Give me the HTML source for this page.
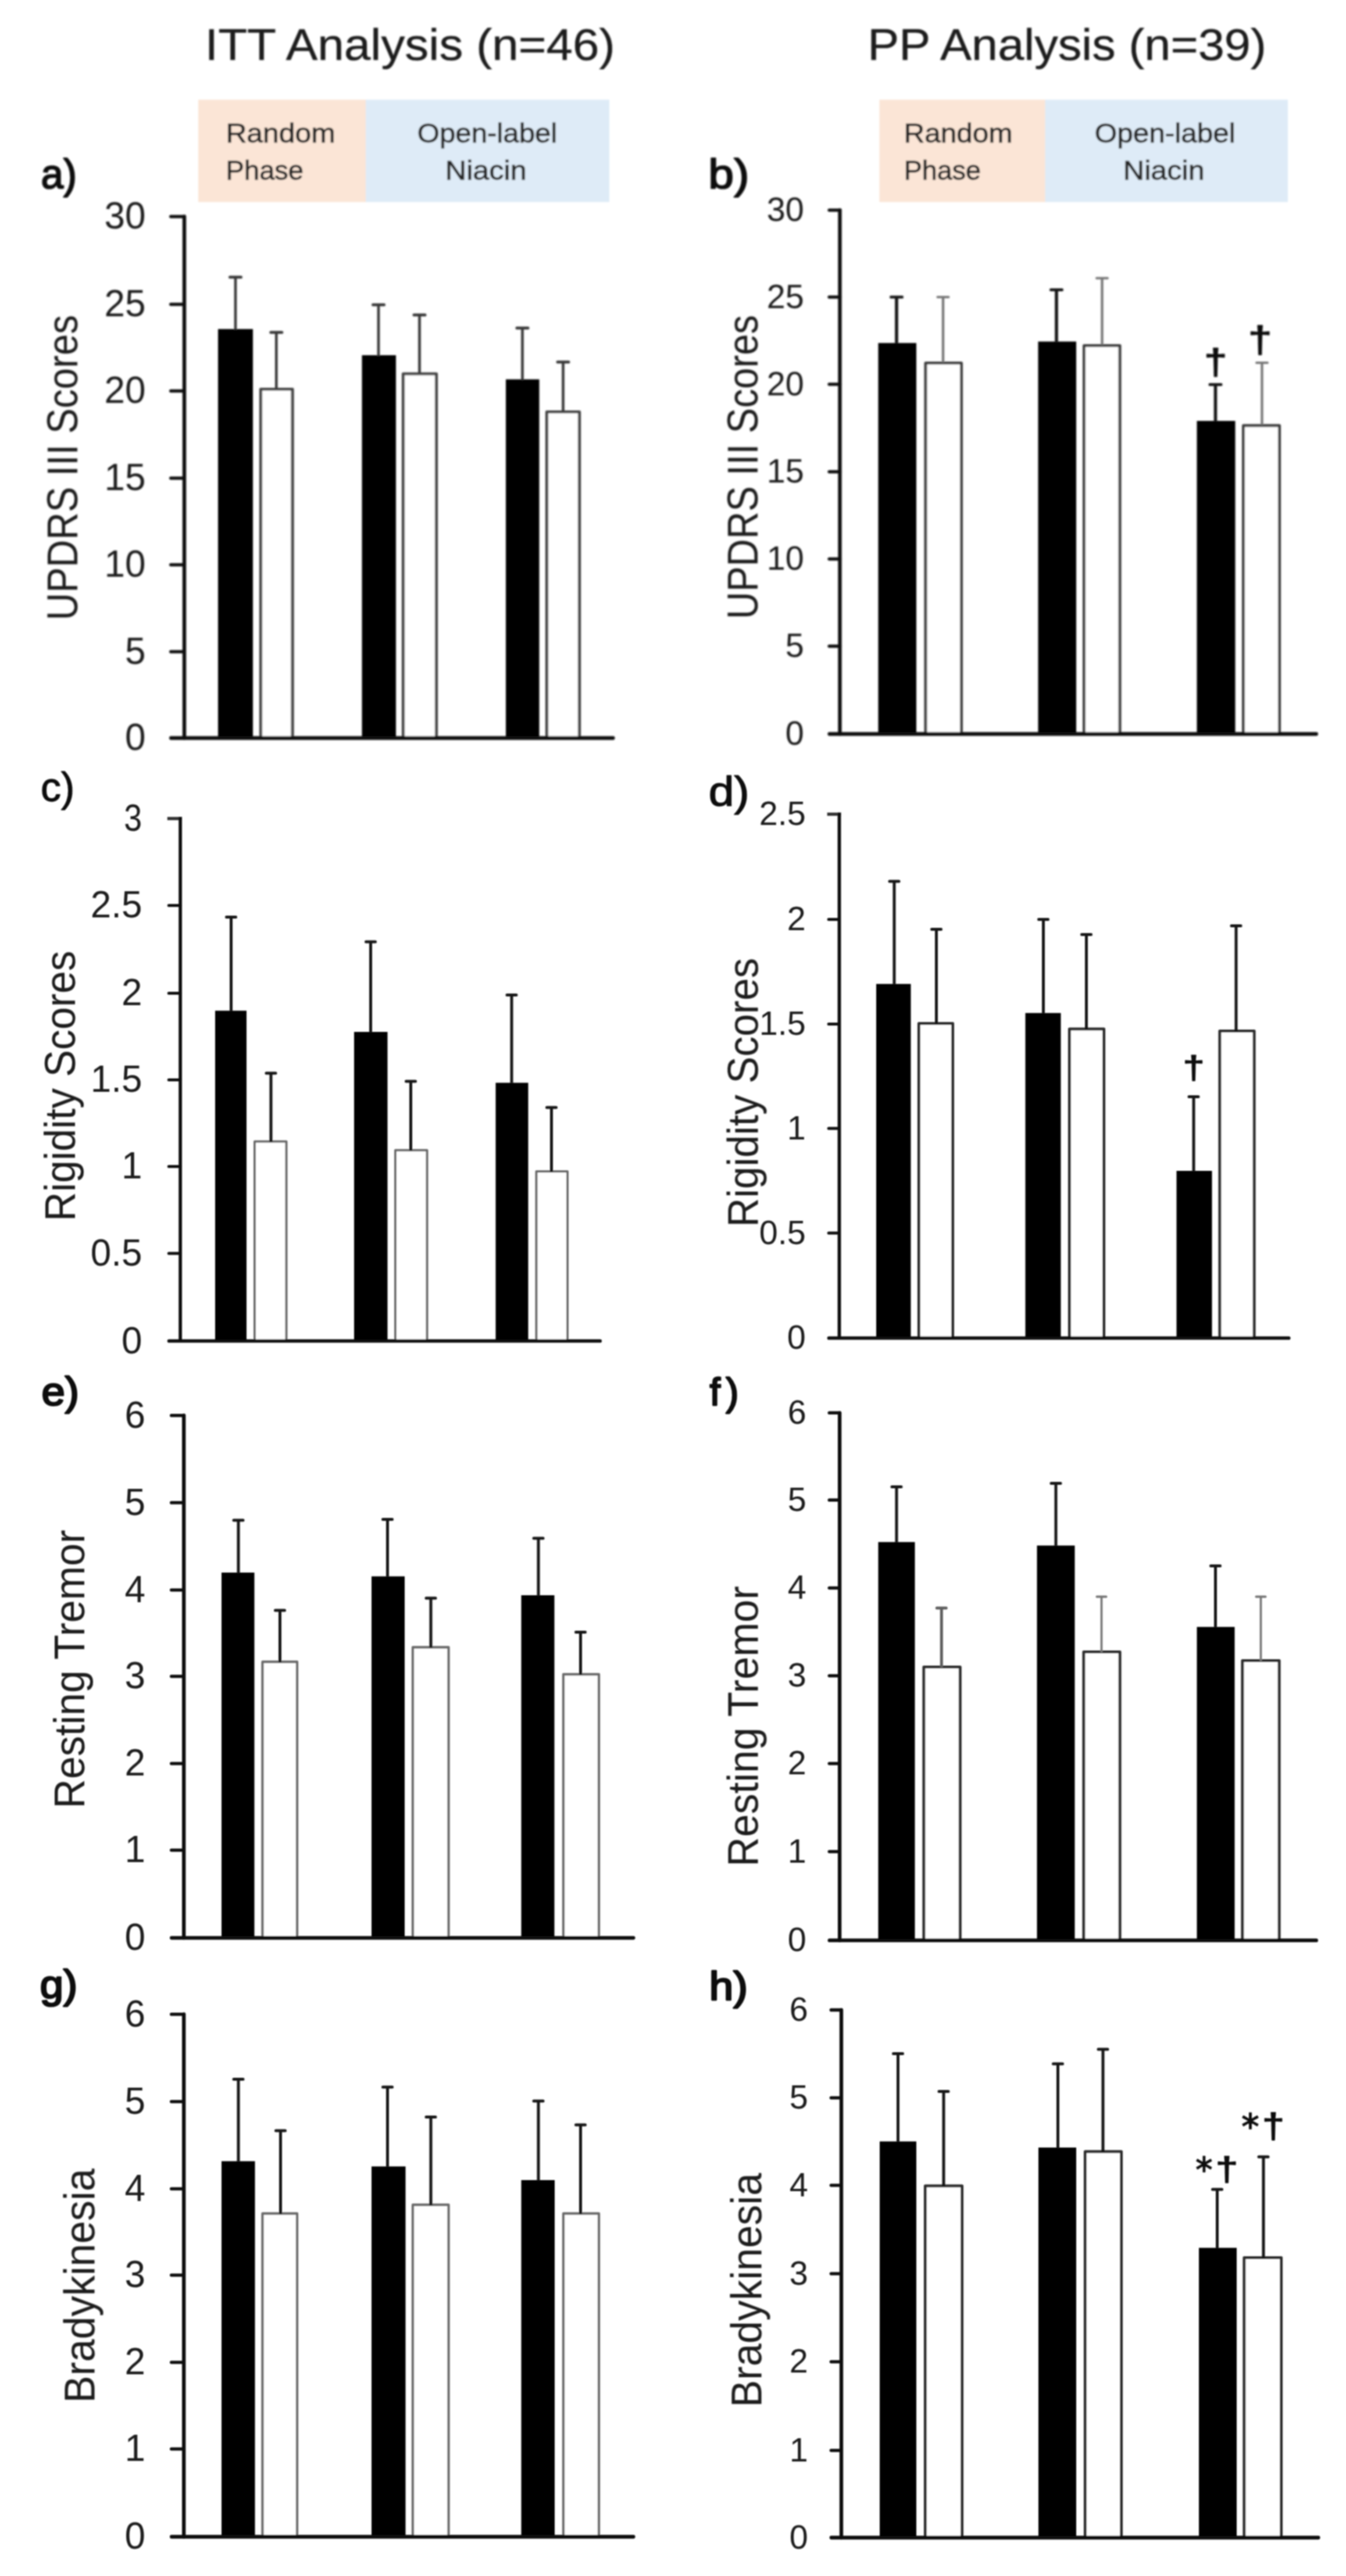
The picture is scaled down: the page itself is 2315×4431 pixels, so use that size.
<!DOCTYPE html>
<html lang="en"><head><meta charset="utf-8"><title>UPDRS figure</title>
<style>html,body{margin:0;padding:0;background:#fff}body{width:2315px;height:4431px;overflow:hidden}svg{display:block}text{white-space:pre}</style>
</head><body>
<svg width="2315" height="4431" viewBox="0 0 2315 4431">
<defs>
<filter id="b1" x="0" y="0" width="2315" height="4431" filterUnits="userSpaceOnUse"><feGaussianBlur stdDeviation="1.1"/></filter>
<filter id="b2" x="0" y="0" width="2315" height="4431" filterUnits="userSpaceOnUse"><feGaussianBlur stdDeviation="1.5"/></filter>
</defs>
<rect width="2315" height="4431" fill="#fff"/>
<g filter="url(#b2)">
<rect x="341.00" y="171.50" width="288.50" height="176.00" fill="#fbe5d6"/>
<rect x="629.00" y="171.50" width="419.00" height="176.00" fill="#deebf7"/>
<rect x="1512.50" y="171.50" width="285.50" height="176.00" fill="#fbe5d6"/>
<rect x="1797.50" y="171.50" width="417.50" height="176.00" fill="#deebf7"/>
<text transform="translate(352.43,102.50) scale(1.0762,1)" font-size="76" font-family="Liberation Sans, sans-serif" fill="#1c1c1c" stroke="#1c1c1c" stroke-width="0.5" stroke-linejoin="round">ITT Analysis (n=46)</text>
<text transform="translate(1492.31,102.50) scale(1.0666,1)" font-size="76" font-family="Liberation Sans, sans-serif" fill="#1c1c1c" stroke="#1c1c1c" stroke-width="0.5" stroke-linejoin="round">PP Analysis (n=39)</text>
<text transform="translate(388.39,245.00) scale(1.0716,1)" font-size="46.5" font-family="Liberation Sans, sans-serif" fill="#262626" stroke="#262626" stroke-width="1.0" stroke-linejoin="round">Random</text>
<text transform="translate(388.62,309.00) scale(1.0118,1)" font-size="46.5" font-family="Liberation Sans, sans-serif" fill="#262626" stroke="#262626" stroke-width="1.0" stroke-linejoin="round">Phase</text>
<text transform="translate(717.66,245.00) scale(1.0578,1)" font-size="46.5" font-family="Liberation Sans, sans-serif" fill="#262626" stroke="#262626" stroke-width="1.0" stroke-linejoin="round">Open-label</text>
<text transform="translate(765.85,309.00) scale(1.0824,1)" font-size="46.5" font-family="Liberation Sans, sans-serif" fill="#262626" stroke="#262626" stroke-width="1.0" stroke-linejoin="round">Niacin</text>
<text transform="translate(1554.41,245.00) scale(1.0656,1)" font-size="46.5" font-family="Liberation Sans, sans-serif" fill="#262626" stroke="#262626" stroke-width="1.0" stroke-linejoin="round">Random</text>
<text transform="translate(1554.65,309.00) scale(1.0038,1)" font-size="46.5" font-family="Liberation Sans, sans-serif" fill="#262626" stroke="#262626" stroke-width="1.0" stroke-linejoin="round">Phase</text>
<text transform="translate(1882.65,245.00) scale(1.0646,1)" font-size="46.5" font-family="Liberation Sans, sans-serif" fill="#262626" stroke="#262626" stroke-width="1.0" stroke-linejoin="round">Open-label</text>
<text transform="translate(1931.85,309.00) scale(1.0824,1)" font-size="46.5" font-family="Liberation Sans, sans-serif" fill="#262626" stroke="#262626" stroke-width="1.0" stroke-linejoin="round">Niacin</text>
<rect x="375.00" y="566.00" width="60.00" height="703.50" fill="#000"/>
<path d="M448.50,1269.50 V669.50 H503.00 V1269.50" fill="#fff" stroke="#444" stroke-width="5.2" stroke-linejoin="round"/>
<rect x="622.50" y="611.00" width="58.50" height="658.50" fill="#000"/>
<path d="M693.50,1269.50 V643.00 H750.50 V1269.50" fill="#fff" stroke="#444" stroke-width="5.2" stroke-linejoin="round"/>
<rect x="870.00" y="652.50" width="57.50" height="617.00" fill="#000"/>
<path d="M940.50,1269.50 V708.50 H996.50 V1269.50" fill="#fff" stroke="#444" stroke-width="5.2" stroke-linejoin="round"/>
<line x1="405.00" y1="476.70" x2="405.00" y2="567.00" stroke="#383838" stroke-width="4.6"/>
<line x1="395.50" y1="476.70" x2="414.50" y2="476.70" stroke="#383838" stroke-width="5" stroke-linecap="round"/>
<line x1="475.30" y1="571.70" x2="475.30" y2="668.50" stroke="#383838" stroke-width="4.6"/>
<line x1="465.80" y1="571.70" x2="484.80" y2="571.70" stroke="#383838" stroke-width="5" stroke-linecap="round"/>
<line x1="651.00" y1="524.20" x2="651.00" y2="612.00" stroke="#383838" stroke-width="4.6"/>
<line x1="641.50" y1="524.20" x2="660.50" y2="524.20" stroke="#383838" stroke-width="5" stroke-linecap="round"/>
<line x1="721.50" y1="541.70" x2="721.50" y2="642.00" stroke="#383838" stroke-width="4.6"/>
<line x1="712.00" y1="541.70" x2="731.00" y2="541.70" stroke="#383838" stroke-width="5" stroke-linecap="round"/>
<line x1="898.50" y1="564.20" x2="898.50" y2="653.50" stroke="#383838" stroke-width="4.6"/>
<line x1="889.00" y1="564.20" x2="908.00" y2="564.20" stroke="#383838" stroke-width="5" stroke-linecap="round"/>
<line x1="968.50" y1="622.70" x2="968.50" y2="707.50" stroke="#383838" stroke-width="4.6"/>
<line x1="959.00" y1="622.70" x2="978.00" y2="622.70" stroke="#383838" stroke-width="5" stroke-linecap="round"/>
<line x1="293.80" y1="372.50" x2="317.00" y2="372.50" stroke="#0d0d0d" stroke-width="5.6" stroke-linecap="round"/>
<line x1="317.00" y1="372.50" x2="317.00" y2="1269.50" stroke="#0d0d0d" stroke-width="6.3" stroke-linecap="round"/>
<line x1="294.15" y1="1269.50" x2="1054.35" y2="1269.50" stroke="#0d0d0d" stroke-width="6.3" stroke-linecap="round"/>
<line x1="293.80" y1="523.50" x2="317.00" y2="523.50" stroke="#0d0d0d" stroke-width="5.6" stroke-linecap="round"/>
<line x1="293.80" y1="672.50" x2="317.00" y2="672.50" stroke="#0d0d0d" stroke-width="5.6" stroke-linecap="round"/>
<line x1="293.80" y1="822.50" x2="317.00" y2="822.50" stroke="#0d0d0d" stroke-width="5.6" stroke-linecap="round"/>
<line x1="293.80" y1="971.50" x2="317.00" y2="971.50" stroke="#0d0d0d" stroke-width="5.6" stroke-linecap="round"/>
<line x1="293.80" y1="1121.00" x2="317.00" y2="1121.00" stroke="#0d0d0d" stroke-width="5.6" stroke-linecap="round"/>
<text transform="translate(179.42,393.30) scale(0.9980,1)" font-size="64" font-family="Liberation Sans, sans-serif" fill="#1a1a1a">30</text>
<text transform="translate(179.42,544.30) scale(0.9980,1)" font-size="64" font-family="Liberation Sans, sans-serif" fill="#1a1a1a">25</text>
<text transform="translate(179.42,693.30) scale(0.9980,1)" font-size="64" font-family="Liberation Sans, sans-serif" fill="#1a1a1a">20</text>
<text transform="translate(179.42,843.30) scale(0.9980,1)" font-size="64" font-family="Liberation Sans, sans-serif" fill="#1a1a1a">15</text>
<text transform="translate(179.42,992.30) scale(0.9980,1)" font-size="64" font-family="Liberation Sans, sans-serif" fill="#1a1a1a">10</text>
<text transform="translate(214.95,1141.80) scale(0.9980,1)" font-size="64" font-family="Liberation Sans, sans-serif" fill="#1a1a1a">5</text>
<text transform="translate(214.95,1290.30) scale(0.9980,1)" font-size="64" font-family="Liberation Sans, sans-serif" fill="#1a1a1a">0</text>
<text transform="translate(133.00,1067.09) rotate(-90) scale(0.8872,1)" font-size="74" font-family="Liberation Sans, sans-serif" fill="#1a1a1a">UPDRS III Scores</text>
<text transform="translate(70.50,324.02) scale(0.9257,0.9723)" font-size="75" font-family="Liberation Sans, sans-serif" fill="#111" stroke="#111" stroke-width="2.3" stroke-linejoin="round">a)</text>
<rect x="1510.50" y="590.00" width="65.50" height="672.50" fill="#000"/>
<path d="M1592.00,1262.50 V624.50 H1653.50 V1262.50" fill="#fff" stroke="#3c3c3c" stroke-width="5" stroke-linejoin="round"/>
<rect x="1785.50" y="587.50" width="65.50" height="675.00" fill="#000"/>
<path d="M1864.50,1262.50 V594.50 H1926.00 V1262.50" fill="#fff" stroke="#3c3c3c" stroke-width="5" stroke-linejoin="round"/>
<rect x="2058.50" y="724.00" width="66.00" height="538.50" fill="#000"/>
<path d="M2138.50,1262.50 V732.00 H2200.50 V1262.50" fill="#fff" stroke="#3c3c3c" stroke-width="5" stroke-linejoin="round"/>
<line x1="1542.00" y1="511.00" x2="1542.00" y2="591.00" stroke="#141414" stroke-width="5.6"/>
<line x1="1532.50" y1="511.00" x2="1551.50" y2="511.00" stroke="#141414" stroke-width="5" stroke-linecap="round"/>
<line x1="1622.00" y1="511.00" x2="1622.00" y2="623.50" stroke="#767676" stroke-width="4.3"/>
<line x1="1612.50" y1="511.00" x2="1631.50" y2="511.00" stroke="#767676" stroke-width="4" stroke-linecap="round"/>
<line x1="1817.00" y1="498.50" x2="1817.00" y2="588.50" stroke="#141414" stroke-width="5.6"/>
<line x1="1807.50" y1="498.50" x2="1826.50" y2="498.50" stroke="#141414" stroke-width="5" stroke-linecap="round"/>
<line x1="1895.50" y1="478.50" x2="1895.50" y2="593.50" stroke="#767676" stroke-width="4.3"/>
<line x1="1886.00" y1="478.50" x2="1905.00" y2="478.50" stroke="#767676" stroke-width="4" stroke-linecap="round"/>
<line x1="2090.50" y1="661.50" x2="2090.50" y2="725.00" stroke="#141414" stroke-width="5.6"/>
<line x1="2081.00" y1="661.50" x2="2100.00" y2="661.50" stroke="#141414" stroke-width="5" stroke-linecap="round"/>
<line x1="2170.50" y1="624.00" x2="2170.50" y2="731.00" stroke="#767676" stroke-width="4.3"/>
<line x1="2161.00" y1="624.00" x2="2180.00" y2="624.00" stroke="#767676" stroke-width="4" stroke-linecap="round"/>
<line x1="1426.30" y1="361.50" x2="1444.50" y2="361.50" stroke="#0d0d0d" stroke-width="5.6" stroke-linecap="round"/>
<line x1="1444.50" y1="361.50" x2="1444.50" y2="1262.50" stroke="#0d0d0d" stroke-width="6.3" stroke-linecap="round"/>
<line x1="1426.65" y1="1262.50" x2="2263.85" y2="1262.50" stroke="#0d0d0d" stroke-width="6.3" stroke-linecap="round"/>
<line x1="1426.30" y1="511.00" x2="1444.50" y2="511.00" stroke="#0d0d0d" stroke-width="5.6" stroke-linecap="round"/>
<line x1="1426.30" y1="661.00" x2="1444.50" y2="661.00" stroke="#0d0d0d" stroke-width="5.6" stroke-linecap="round"/>
<line x1="1426.30" y1="811.50" x2="1444.50" y2="811.50" stroke="#0d0d0d" stroke-width="5.6" stroke-linecap="round"/>
<line x1="1426.30" y1="961.50" x2="1444.50" y2="961.50" stroke="#0d0d0d" stroke-width="5.6" stroke-linecap="round"/>
<line x1="1426.30" y1="1111.50" x2="1444.50" y2="1111.50" stroke="#0d0d0d" stroke-width="5.6" stroke-linecap="round"/>
<text transform="translate(1318.67,380.24) scale(0.9930,1)" font-size="58" font-family="Liberation Sans, sans-serif" fill="#1a1a1a">30</text>
<text transform="translate(1318.67,529.74) scale(0.9930,1)" font-size="58" font-family="Liberation Sans, sans-serif" fill="#1a1a1a">25</text>
<text transform="translate(1318.67,679.74) scale(0.9930,1)" font-size="58" font-family="Liberation Sans, sans-serif" fill="#1a1a1a">20</text>
<text transform="translate(1318.67,830.24) scale(0.9930,1)" font-size="58" font-family="Liberation Sans, sans-serif" fill="#1a1a1a">15</text>
<text transform="translate(1318.67,980.24) scale(0.9930,1)" font-size="58" font-family="Liberation Sans, sans-serif" fill="#1a1a1a">10</text>
<text transform="translate(1350.70,1130.24) scale(0.9930,1)" font-size="58" font-family="Liberation Sans, sans-serif" fill="#1a1a1a">5</text>
<text transform="translate(1350.70,1281.24) scale(0.9930,1)" font-size="58" font-family="Liberation Sans, sans-serif" fill="#1a1a1a">0</text>
<text transform="translate(1303.00,1065.07) rotate(-90) scale(0.8838,1)" font-size="74" font-family="Liberation Sans, sans-serif" fill="#1a1a1a">UPDRS III Scores</text>
<text transform="translate(1218.33,324.02) scale(1.0509,0.9723)" font-size="75" font-family="Liberation Sans, sans-serif" fill="#111" stroke="#111" stroke-width="2.3" stroke-linejoin="round">b)</text>
<text transform="translate(2071.16,643.45) scale(1.1716,1.0242)" font-size="60" font-family="Liberation Sans, sans-serif" fill="#111" stroke="#111" stroke-width="1.8" stroke-linejoin="round">†</text>
<text transform="translate(2147.00,605.82) scale(1.2110,1.0557)" font-size="60" font-family="Liberation Sans, sans-serif" fill="#111" stroke="#111" stroke-width="1.8" stroke-linejoin="round">†</text>
</g>
<g filter="url(#b1)">
<rect x="370.00" y="1738.50" width="54.00" height="568.20" fill="#000"/>
<path d="M438.00,2306.70 V1963.50 H492.50 V2306.70" fill="#fff" stroke="#6a6a6a" stroke-width="4" stroke-linejoin="round"/>
<rect x="609.00" y="1775.00" width="57.50" height="531.70" fill="#000"/>
<path d="M680.00,2306.70 V1978.50 H734.50 V2306.70" fill="#fff" stroke="#6a6a6a" stroke-width="4" stroke-linejoin="round"/>
<rect x="852.50" y="1862.50" width="56.00" height="444.20" fill="#000"/>
<path d="M922.50,2306.70 V2015.00 H976.00 V2306.70" fill="#fff" stroke="#6a6a6a" stroke-width="4" stroke-linejoin="round"/>
<line x1="397.50" y1="1577.50" x2="397.50" y2="1739.50" stroke="#161616" stroke-width="5"/>
<line x1="389.50" y1="1577.50" x2="405.50" y2="1577.50" stroke="#161616" stroke-width="5" stroke-linecap="round"/>
<line x1="466.00" y1="1846.00" x2="466.00" y2="1964.50" stroke="#161616" stroke-width="5"/>
<line x1="458.00" y1="1846.00" x2="474.00" y2="1846.00" stroke="#161616" stroke-width="5" stroke-linecap="round"/>
<line x1="637.50" y1="1620.00" x2="637.50" y2="1776.00" stroke="#161616" stroke-width="5"/>
<line x1="629.50" y1="1620.00" x2="645.50" y2="1620.00" stroke="#161616" stroke-width="5" stroke-linecap="round"/>
<line x1="706.50" y1="1860.00" x2="706.50" y2="1979.50" stroke="#161616" stroke-width="5"/>
<line x1="698.50" y1="1860.00" x2="714.50" y2="1860.00" stroke="#161616" stroke-width="5" stroke-linecap="round"/>
<line x1="880.00" y1="1711.50" x2="880.00" y2="1863.50" stroke="#161616" stroke-width="5"/>
<line x1="872.00" y1="1711.50" x2="888.00" y2="1711.50" stroke="#161616" stroke-width="5" stroke-linecap="round"/>
<line x1="948.50" y1="1905.00" x2="948.50" y2="2016.00" stroke="#161616" stroke-width="5"/>
<line x1="940.50" y1="1905.00" x2="956.50" y2="1905.00" stroke="#161616" stroke-width="5" stroke-linecap="round"/>
<line x1="287.80" y1="1408.00" x2="312.95" y2="1408.00" stroke="#333" stroke-width="5.5"/>
<line x1="310.10" y1="1405.25" x2="310.10" y2="2306.70" stroke="#0d0d0d" stroke-width="5.7"/>
<line x1="290.65" y1="2306.70" x2="1032.15" y2="2306.70" stroke="#0d0d0d" stroke-width="5.7" stroke-linecap="round"/>
<line x1="290.30" y1="1557.50" x2="310.10" y2="1557.50" stroke="#0d0d0d" stroke-width="5" stroke-linecap="round"/>
<line x1="290.30" y1="1708.50" x2="310.10" y2="1708.50" stroke="#0d0d0d" stroke-width="5" stroke-linecap="round"/>
<line x1="290.30" y1="1857.50" x2="310.10" y2="1857.50" stroke="#0d0d0d" stroke-width="5" stroke-linecap="round"/>
<line x1="290.30" y1="2006.50" x2="310.10" y2="2006.50" stroke="#0d0d0d" stroke-width="5" stroke-linecap="round"/>
<line x1="290.30" y1="2156.00" x2="310.10" y2="2156.00" stroke="#0d0d0d" stroke-width="5" stroke-linecap="round"/>
<text transform="translate(213.24,1428.80) scale(0.8683,1)" font-size="64" font-family="Liberation Sans, sans-serif" fill="#1a1a1a">3</text>
<text transform="translate(155.67,1578.30) scale(0.9980,1)" font-size="64" font-family="Liberation Sans, sans-serif" fill="#1a1a1a">2.5</text>
<text transform="translate(208.95,1729.30) scale(0.9980,1)" font-size="64" font-family="Liberation Sans, sans-serif" fill="#1a1a1a">2</text>
<text transform="translate(155.67,1878.30) scale(0.9980,1)" font-size="64" font-family="Liberation Sans, sans-serif" fill="#1a1a1a">1.5</text>
<text transform="translate(208.95,2027.30) scale(0.9980,1)" font-size="64" font-family="Liberation Sans, sans-serif" fill="#1a1a1a">1</text>
<text transform="translate(155.67,2176.80) scale(0.9980,1)" font-size="64" font-family="Liberation Sans, sans-serif" fill="#1a1a1a">0.5</text>
<text transform="translate(208.95,2327.50) scale(0.9980,1)" font-size="64" font-family="Liberation Sans, sans-serif" fill="#1a1a1a">0</text>
<text transform="translate(129.00,2100.76) rotate(-90) scale(0.9435,1)" font-size="74" font-family="Liberation Sans, sans-serif" fill="#1a1a1a">Rigidity Scores</text>
<text transform="translate(70.03,1378.32) scale(0.9315,0.9366)" font-size="75" font-family="Liberation Sans, sans-serif" fill="#111" stroke="#111" stroke-width="1.4" stroke-linejoin="round">c)</text>
<rect x="1507.00" y="1692.50" width="59.50" height="609.20" fill="#000"/>
<path d="M1580.40,2301.70 V1760.50 H1638.60 V2301.70" fill="#fff" stroke="#2e2e2e" stroke-width="5" stroke-linejoin="round"/>
<rect x="1763.50" y="1742.50" width="61.00" height="559.20" fill="#000"/>
<path d="M1839.40,2301.70 V1770.00 H1898.60 V2301.70" fill="#fff" stroke="#2e2e2e" stroke-width="5" stroke-linejoin="round"/>
<rect x="2023.50" y="2014.00" width="61.00" height="287.70" fill="#000"/>
<path d="M2097.90,2301.70 V1773.50 H2157.10 V2301.70" fill="#fff" stroke="#2e2e2e" stroke-width="5" stroke-linejoin="round"/>
<line x1="1538.00" y1="1516.00" x2="1538.00" y2="1693.50" stroke="#161616" stroke-width="5"/>
<line x1="1530.00" y1="1516.00" x2="1546.00" y2="1516.00" stroke="#161616" stroke-width="5" stroke-linecap="round"/>
<line x1="1610.50" y1="1598.50" x2="1610.50" y2="1761.50" stroke="#161616" stroke-width="5"/>
<line x1="1602.50" y1="1598.50" x2="1618.50" y2="1598.50" stroke="#161616" stroke-width="5" stroke-linecap="round"/>
<line x1="1794.50" y1="1581.50" x2="1794.50" y2="1743.50" stroke="#161616" stroke-width="5"/>
<line x1="1786.50" y1="1581.50" x2="1802.50" y2="1581.50" stroke="#161616" stroke-width="5" stroke-linecap="round"/>
<line x1="1868.50" y1="1607.50" x2="1868.50" y2="1771.00" stroke="#161616" stroke-width="5"/>
<line x1="1860.50" y1="1607.50" x2="1876.50" y2="1607.50" stroke="#161616" stroke-width="5" stroke-linecap="round"/>
<line x1="2053.00" y1="1886.50" x2="2053.00" y2="2015.00" stroke="#161616" stroke-width="5"/>
<line x1="2045.00" y1="1886.50" x2="2061.00" y2="1886.50" stroke="#161616" stroke-width="5" stroke-linecap="round"/>
<line x1="2126.00" y1="1592.50" x2="2126.00" y2="1774.50" stroke="#161616" stroke-width="5"/>
<line x1="2118.00" y1="1592.50" x2="2134.00" y2="1592.50" stroke="#161616" stroke-width="5" stroke-linecap="round"/>
<line x1="1422.70" y1="1400.50" x2="1446.35" y2="1400.50" stroke="#333" stroke-width="5.5"/>
<line x1="1443.50" y1="1397.75" x2="1443.50" y2="2301.70" stroke="#0d0d0d" stroke-width="5.7"/>
<line x1="1425.55" y1="2301.70" x2="2216.65" y2="2301.70" stroke="#0d0d0d" stroke-width="5.7" stroke-linecap="round"/>
<line x1="1425.20" y1="1581.50" x2="1443.50" y2="1581.50" stroke="#0d0d0d" stroke-width="5" stroke-linecap="round"/>
<line x1="1425.20" y1="1761.50" x2="1443.50" y2="1761.50" stroke="#0d0d0d" stroke-width="5" stroke-linecap="round"/>
<line x1="1425.20" y1="1941.00" x2="1443.50" y2="1941.00" stroke="#0d0d0d" stroke-width="5" stroke-linecap="round"/>
<line x1="1425.20" y1="2121.00" x2="1443.50" y2="2121.00" stroke="#0d0d0d" stroke-width="5" stroke-linecap="round"/>
<text transform="translate(1305.67,1419.24) scale(0.9930,1)" font-size="58" font-family="Liberation Sans, sans-serif" fill="#1a1a1a">2.5</text>
<text transform="translate(1353.70,1600.24) scale(0.9930,1)" font-size="58" font-family="Liberation Sans, sans-serif" fill="#1a1a1a">2</text>
<text transform="translate(1305.67,1780.24) scale(0.9930,1)" font-size="58" font-family="Liberation Sans, sans-serif" fill="#1a1a1a">1.5</text>
<text transform="translate(1353.70,1959.74) scale(0.9930,1)" font-size="58" font-family="Liberation Sans, sans-serif" fill="#1a1a1a">1</text>
<text transform="translate(1305.67,2139.74) scale(0.9930,1)" font-size="58" font-family="Liberation Sans, sans-serif" fill="#1a1a1a">0.5</text>
<text transform="translate(1353.70,2320.44) scale(0.9930,1)" font-size="58" font-family="Liberation Sans, sans-serif" fill="#1a1a1a">0</text>
<text transform="translate(1303.50,2110.73) rotate(-90) scale(0.9384,1)" font-size="74" font-family="Liberation Sans, sans-serif" fill="#1a1a1a">Rigidity Scores</text>
<text transform="translate(1218.65,1385.58) scale(1.0514,0.9651)" font-size="75" font-family="Liberation Sans, sans-serif" fill="#111" stroke="#111" stroke-width="1.6" stroke-linejoin="round">d)</text>
<text transform="translate(2034.39,1855.34) scale(1.1124,0.9295)" font-size="60" font-family="Liberation Sans, sans-serif" fill="#111" stroke="#111" stroke-width="1.8" stroke-linejoin="round">†</text>
<rect x="381.00" y="2705.00" width="56.50" height="628.30" fill="#000"/>
<path d="M451.50,3333.30 V2858.50 H511.00 V3333.30" fill="#fff" stroke="#6c6c6c" stroke-width="4.3" stroke-linejoin="round"/>
<rect x="639.00" y="2711.50" width="57.00" height="621.80" fill="#000"/>
<path d="M710.00,3333.30 V2833.50 H771.50 V3333.30" fill="#fff" stroke="#6c6c6c" stroke-width="4.3" stroke-linejoin="round"/>
<rect x="896.50" y="2744.00" width="57.00" height="589.30" fill="#000"/>
<path d="M969.00,3333.30 V2880.00 H1030.00 V3333.30" fill="#fff" stroke="#6c6c6c" stroke-width="4.3" stroke-linejoin="round"/>
<line x1="410.00" y1="2615.00" x2="410.00" y2="2706.00" stroke="#161616" stroke-width="5"/>
<line x1="402.00" y1="2615.00" x2="418.00" y2="2615.00" stroke="#161616" stroke-width="5" stroke-linecap="round"/>
<line x1="481.50" y1="2770.00" x2="481.50" y2="2859.50" stroke="#161616" stroke-width="5"/>
<line x1="473.50" y1="2770.00" x2="489.50" y2="2770.00" stroke="#161616" stroke-width="5" stroke-linecap="round"/>
<line x1="666.50" y1="2613.50" x2="666.50" y2="2712.50" stroke="#161616" stroke-width="5"/>
<line x1="658.50" y1="2613.50" x2="674.50" y2="2613.50" stroke="#161616" stroke-width="5" stroke-linecap="round"/>
<line x1="741.00" y1="2749.00" x2="741.00" y2="2834.50" stroke="#161616" stroke-width="5"/>
<line x1="733.00" y1="2749.00" x2="749.00" y2="2749.00" stroke="#161616" stroke-width="5" stroke-linecap="round"/>
<line x1="926.00" y1="2646.00" x2="926.00" y2="2745.00" stroke="#161616" stroke-width="5"/>
<line x1="918.00" y1="2646.00" x2="934.00" y2="2646.00" stroke="#161616" stroke-width="5" stroke-linecap="round"/>
<line x1="998.50" y1="2807.50" x2="998.50" y2="2881.00" stroke="#161616" stroke-width="5"/>
<line x1="990.50" y1="2807.50" x2="1006.50" y2="2807.50" stroke="#161616" stroke-width="5" stroke-linecap="round"/>
<line x1="294.80" y1="2434.70" x2="316.20" y2="2434.70" stroke="#0d0d0d" stroke-width="5.6" stroke-linecap="round"/>
<line x1="316.20" y1="2434.70" x2="316.20" y2="3333.30" stroke="#0d0d0d" stroke-width="6.3" stroke-linecap="round"/>
<line x1="295.15" y1="3333.30" x2="1089.35" y2="3333.30" stroke="#0d0d0d" stroke-width="6.3" stroke-linecap="round"/>
<line x1="294.80" y1="2584.70" x2="316.20" y2="2584.70" stroke="#0d0d0d" stroke-width="5.6" stroke-linecap="round"/>
<line x1="294.80" y1="2735.00" x2="316.20" y2="2735.00" stroke="#0d0d0d" stroke-width="5.6" stroke-linecap="round"/>
<line x1="294.80" y1="2883.50" x2="316.20" y2="2883.50" stroke="#0d0d0d" stroke-width="5.6" stroke-linecap="round"/>
<line x1="294.80" y1="3033.50" x2="316.20" y2="3033.50" stroke="#0d0d0d" stroke-width="5.6" stroke-linecap="round"/>
<line x1="294.80" y1="3182.50" x2="316.20" y2="3182.50" stroke="#0d0d0d" stroke-width="5.6" stroke-linecap="round"/>
<text transform="translate(214.45,2455.50) scale(0.9980,1)" font-size="64" font-family="Liberation Sans, sans-serif" fill="#1a1a1a">6</text>
<text transform="translate(214.45,2605.50) scale(0.9980,1)" font-size="64" font-family="Liberation Sans, sans-serif" fill="#1a1a1a">5</text>
<text transform="translate(214.45,2755.80) scale(0.9980,1)" font-size="64" font-family="Liberation Sans, sans-serif" fill="#1a1a1a">4</text>
<text transform="translate(214.45,2904.30) scale(0.9980,1)" font-size="64" font-family="Liberation Sans, sans-serif" fill="#1a1a1a">3</text>
<text transform="translate(214.45,3054.30) scale(0.9980,1)" font-size="64" font-family="Liberation Sans, sans-serif" fill="#1a1a1a">2</text>
<text transform="translate(214.45,3203.30) scale(0.9980,1)" font-size="64" font-family="Liberation Sans, sans-serif" fill="#1a1a1a">1</text>
<text transform="translate(214.45,3354.10) scale(0.9980,1)" font-size="64" font-family="Liberation Sans, sans-serif" fill="#1a1a1a">0</text>
<text transform="translate(145.00,3110.79) rotate(-90) scale(0.9477,1)" font-size="74" font-family="Liberation Sans, sans-serif" fill="#1a1a1a">Resting Tremor</text>
<text transform="translate(71.57,2417.40) scale(0.9665,0.9094)" font-size="75" font-family="Liberation Sans, sans-serif" fill="#111" stroke="#111" stroke-width="3.3" stroke-linejoin="round">e)</text>
<rect x="1510.50" y="2652.50" width="63.00" height="685.20" fill="#000"/>
<path d="M1588.90,3337.70 V2867.50 H1651.30 V3337.70" fill="#fff" stroke="#2e2e2e" stroke-width="5" stroke-linejoin="round"/>
<rect x="1783.50" y="2658.50" width="65.00" height="679.20" fill="#000"/>
<path d="M1863.90,3337.70 V2841.50 H1926.10 V3337.70" fill="#fff" stroke="#2e2e2e" stroke-width="5" stroke-linejoin="round"/>
<rect x="2058.50" y="2798.50" width="65.00" height="539.20" fill="#000"/>
<path d="M2136.90,3337.70 V2856.50 H2200.10 V3337.70" fill="#fff" stroke="#2e2e2e" stroke-width="5" stroke-linejoin="round"/>
<line x1="1542.00" y1="2557.50" x2="1542.00" y2="2653.50" stroke="#161616" stroke-width="5"/>
<line x1="1534.00" y1="2557.50" x2="1550.00" y2="2557.50" stroke="#161616" stroke-width="5" stroke-linecap="round"/>
<line x1="1619.30" y1="2766.00" x2="1619.30" y2="2868.50" stroke="#5e5e5e" stroke-width="5"/>
<line x1="1611.30" y1="2766.00" x2="1627.30" y2="2766.00" stroke="#5e5e5e" stroke-width="5" stroke-linecap="round"/>
<line x1="1816.00" y1="2551.50" x2="1816.00" y2="2659.50" stroke="#161616" stroke-width="5"/>
<line x1="1808.00" y1="2551.50" x2="1824.00" y2="2551.50" stroke="#161616" stroke-width="5" stroke-linecap="round"/>
<line x1="1894.50" y1="2746.50" x2="1894.50" y2="2842.50" stroke="#767676" stroke-width="3.7"/>
<line x1="1886.50" y1="2746.50" x2="1902.50" y2="2746.50" stroke="#767676" stroke-width="4" stroke-linecap="round"/>
<line x1="2090.50" y1="2693.50" x2="2090.50" y2="2799.50" stroke="#161616" stroke-width="5"/>
<line x1="2082.50" y1="2693.50" x2="2098.50" y2="2693.50" stroke="#161616" stroke-width="5" stroke-linecap="round"/>
<line x1="2168.50" y1="2746.50" x2="2168.50" y2="2857.50" stroke="#767676" stroke-width="3.7"/>
<line x1="2160.50" y1="2746.50" x2="2176.50" y2="2746.50" stroke="#767676" stroke-width="4" stroke-linecap="round"/>
<line x1="1426.40" y1="2430.30" x2="1444.10" y2="2430.30" stroke="#0d0d0d" stroke-width="5.6" stroke-linecap="round"/>
<line x1="1444.10" y1="2430.30" x2="1444.10" y2="3337.70" stroke="#0d0d0d" stroke-width="6.3" stroke-linecap="round"/>
<line x1="1426.75" y1="3337.70" x2="2263.85" y2="3337.70" stroke="#0d0d0d" stroke-width="6.3" stroke-linecap="round"/>
<line x1="1426.40" y1="2580.20" x2="1444.10" y2="2580.20" stroke="#0d0d0d" stroke-width="5.6" stroke-linecap="round"/>
<line x1="1426.40" y1="2731.50" x2="1444.10" y2="2731.50" stroke="#0d0d0d" stroke-width="5.6" stroke-linecap="round"/>
<line x1="1426.40" y1="2882.50" x2="1444.10" y2="2882.50" stroke="#0d0d0d" stroke-width="5.6" stroke-linecap="round"/>
<line x1="1426.40" y1="3033.50" x2="1444.10" y2="3033.50" stroke="#0d0d0d" stroke-width="5.6" stroke-linecap="round"/>
<line x1="1426.40" y1="3185.00" x2="1444.10" y2="3185.00" stroke="#0d0d0d" stroke-width="5.6" stroke-linecap="round"/>
<text transform="translate(1354.70,2449.04) scale(0.9930,1)" font-size="58" font-family="Liberation Sans, sans-serif" fill="#1a1a1a">6</text>
<text transform="translate(1354.70,2598.94) scale(0.9930,1)" font-size="58" font-family="Liberation Sans, sans-serif" fill="#1a1a1a">5</text>
<text transform="translate(1354.70,2750.24) scale(0.9930,1)" font-size="58" font-family="Liberation Sans, sans-serif" fill="#1a1a1a">4</text>
<text transform="translate(1354.70,2901.24) scale(0.9930,1)" font-size="58" font-family="Liberation Sans, sans-serif" fill="#1a1a1a">3</text>
<text transform="translate(1354.70,3052.24) scale(0.9930,1)" font-size="58" font-family="Liberation Sans, sans-serif" fill="#1a1a1a">2</text>
<text transform="translate(1354.70,3203.74) scale(0.9930,1)" font-size="58" font-family="Liberation Sans, sans-serif" fill="#1a1a1a">1</text>
<text transform="translate(1354.70,3356.44) scale(0.9930,1)" font-size="58" font-family="Liberation Sans, sans-serif" fill="#1a1a1a">0</text>
<text transform="translate(1303.50,3210.83) rotate(-90) scale(0.9547,1)" font-size="74" font-family="Liberation Sans, sans-serif" fill="#1a1a1a">Resting Tremor</text>
<text transform="translate(1220.77,2416.85) scale(0.8724,0.8994)" font-size="75" font-family="Liberation Sans, sans-serif" fill="#111" stroke="#111" stroke-width="3.3" stroke-linejoin="round" letter-spacing="11">f)</text>
<rect x="381.00" y="3717.50" width="57.50" height="646.00" fill="#000"/>
<path d="M451.50,4363.50 V3807.50 H511.00 V4363.50" fill="#fff" stroke="#6c6c6c" stroke-width="4.3" stroke-linejoin="round"/>
<rect x="639.00" y="3726.50" width="58.50" height="637.00" fill="#000"/>
<path d="M710.00,4363.50 V3792.50 H771.50 V4363.50" fill="#fff" stroke="#6c6c6c" stroke-width="4.3" stroke-linejoin="round"/>
<rect x="896.50" y="3750.00" width="57.50" height="613.50" fill="#000"/>
<path d="M969.00,4363.50 V3807.50 H1030.00 V4363.50" fill="#fff" stroke="#6c6c6c" stroke-width="4.3" stroke-linejoin="round"/>
<line x1="410.00" y1="3576.50" x2="410.00" y2="3718.50" stroke="#161616" stroke-width="5"/>
<line x1="402.00" y1="3576.50" x2="418.00" y2="3576.50" stroke="#161616" stroke-width="5" stroke-linecap="round"/>
<line x1="482.50" y1="3665.00" x2="482.50" y2="3808.50" stroke="#161616" stroke-width="5"/>
<line x1="474.50" y1="3665.00" x2="490.50" y2="3665.00" stroke="#161616" stroke-width="5" stroke-linecap="round"/>
<line x1="666.50" y1="3590.00" x2="666.50" y2="3727.50" stroke="#161616" stroke-width="5"/>
<line x1="658.50" y1="3590.00" x2="674.50" y2="3590.00" stroke="#161616" stroke-width="5" stroke-linecap="round"/>
<line x1="741.00" y1="3641.50" x2="741.00" y2="3793.50" stroke="#161616" stroke-width="5"/>
<line x1="733.00" y1="3641.50" x2="749.00" y2="3641.50" stroke="#161616" stroke-width="5" stroke-linecap="round"/>
<line x1="926.00" y1="3614.00" x2="926.00" y2="3751.00" stroke="#161616" stroke-width="5"/>
<line x1="918.00" y1="3614.00" x2="934.00" y2="3614.00" stroke="#161616" stroke-width="5" stroke-linecap="round"/>
<line x1="998.50" y1="3655.00" x2="998.50" y2="3808.50" stroke="#161616" stroke-width="5"/>
<line x1="990.50" y1="3655.00" x2="1006.50" y2="3655.00" stroke="#161616" stroke-width="5" stroke-linecap="round"/>
<line x1="294.80" y1="3464.70" x2="316.20" y2="3464.70" stroke="#0d0d0d" stroke-width="5.6" stroke-linecap="round"/>
<line x1="316.20" y1="3464.70" x2="316.20" y2="4363.50" stroke="#0d0d0d" stroke-width="6.3" stroke-linecap="round"/>
<line x1="295.15" y1="4363.50" x2="1089.35" y2="4363.50" stroke="#0d0d0d" stroke-width="6.3" stroke-linecap="round"/>
<line x1="294.80" y1="3615.00" x2="316.20" y2="3615.00" stroke="#0d0d0d" stroke-width="5.6" stroke-linecap="round"/>
<line x1="294.80" y1="3765.00" x2="316.20" y2="3765.00" stroke="#0d0d0d" stroke-width="5.6" stroke-linecap="round"/>
<line x1="294.80" y1="3913.50" x2="316.20" y2="3913.50" stroke="#0d0d0d" stroke-width="5.6" stroke-linecap="round"/>
<line x1="294.80" y1="4063.50" x2="316.20" y2="4063.50" stroke="#0d0d0d" stroke-width="5.6" stroke-linecap="round"/>
<line x1="294.80" y1="4212.50" x2="316.20" y2="4212.50" stroke="#0d0d0d" stroke-width="5.6" stroke-linecap="round"/>
<text transform="translate(214.45,3485.50) scale(0.9980,1)" font-size="64" font-family="Liberation Sans, sans-serif" fill="#1a1a1a">6</text>
<text transform="translate(214.45,3635.80) scale(0.9980,1)" font-size="64" font-family="Liberation Sans, sans-serif" fill="#1a1a1a">5</text>
<text transform="translate(214.45,3785.80) scale(0.9980,1)" font-size="64" font-family="Liberation Sans, sans-serif" fill="#1a1a1a">4</text>
<text transform="translate(214.45,3934.30) scale(0.9980,1)" font-size="64" font-family="Liberation Sans, sans-serif" fill="#1a1a1a">3</text>
<text transform="translate(214.45,4084.30) scale(0.9980,1)" font-size="64" font-family="Liberation Sans, sans-serif" fill="#1a1a1a">2</text>
<text transform="translate(214.45,4233.30) scale(0.9980,1)" font-size="64" font-family="Liberation Sans, sans-serif" fill="#1a1a1a">1</text>
<text transform="translate(214.45,4384.30) scale(0.9980,1)" font-size="64" font-family="Liberation Sans, sans-serif" fill="#1a1a1a">0</text>
<text transform="translate(162.50,4133.31) rotate(-90) scale(0.9516,1)" font-size="74" font-family="Liberation Sans, sans-serif" fill="#1a1a1a">Bradykinesia</text>
<text transform="translate(68.67,3436.70) scale(0.9665,0.9094)" font-size="75" font-family="Liberation Sans, sans-serif" fill="#111" stroke="#111" stroke-width="3.3" stroke-linejoin="round">g)</text>
<rect x="1513.00" y="3683.50" width="63.00" height="681.50" fill="#000"/>
<path d="M1591.40,4365.00 V3760.00 H1654.60 V4365.00" fill="#fff" stroke="#2e2e2e" stroke-width="5" stroke-linejoin="round"/>
<rect x="1786.00" y="3694.00" width="65.00" height="671.00" fill="#000"/>
<path d="M1866.40,4365.00 V3701.00 H1928.60 V4365.00" fill="#fff" stroke="#2e2e2e" stroke-width="5" stroke-linejoin="round"/>
<rect x="2062.00" y="3866.50" width="65.00" height="498.50" fill="#000"/>
<path d="M2139.90,4365.00 V3883.50 H2203.60 V4365.00" fill="#fff" stroke="#2e2e2e" stroke-width="5" stroke-linejoin="round"/>
<line x1="1544.50" y1="3532.50" x2="1544.50" y2="3684.50" stroke="#161616" stroke-width="5"/>
<line x1="1536.50" y1="3532.50" x2="1552.50" y2="3532.50" stroke="#161616" stroke-width="5" stroke-linecap="round"/>
<line x1="1623.00" y1="3597.50" x2="1623.00" y2="3761.00" stroke="#161616" stroke-width="5"/>
<line x1="1615.00" y1="3597.50" x2="1631.00" y2="3597.50" stroke="#161616" stroke-width="5" stroke-linecap="round"/>
<line x1="1819.50" y1="3550.00" x2="1819.50" y2="3695.00" stroke="#161616" stroke-width="5"/>
<line x1="1811.50" y1="3550.00" x2="1827.50" y2="3550.00" stroke="#161616" stroke-width="5" stroke-linecap="round"/>
<line x1="1897.00" y1="3525.00" x2="1897.00" y2="3702.00" stroke="#161616" stroke-width="5"/>
<line x1="1889.00" y1="3525.00" x2="1905.00" y2="3525.00" stroke="#161616" stroke-width="5" stroke-linecap="round"/>
<line x1="2093.50" y1="3766.00" x2="2093.50" y2="3867.50" stroke="#161616" stroke-width="5"/>
<line x1="2085.50" y1="3766.00" x2="2101.50" y2="3766.00" stroke="#161616" stroke-width="5" stroke-linecap="round"/>
<line x1="2173.00" y1="3710.00" x2="2173.00" y2="3884.50" stroke="#161616" stroke-width="5"/>
<line x1="2165.00" y1="3710.00" x2="2181.00" y2="3710.00" stroke="#161616" stroke-width="5" stroke-linecap="round"/>
<line x1="1429.50" y1="3457.40" x2="1447.00" y2="3457.40" stroke="#0d0d0d" stroke-width="5.6" stroke-linecap="round"/>
<line x1="1447.00" y1="3457.40" x2="1447.00" y2="4365.00" stroke="#0d0d0d" stroke-width="6.3" stroke-linecap="round"/>
<line x1="1429.85" y1="4365.00" x2="2267.35" y2="4365.00" stroke="#0d0d0d" stroke-width="6.3" stroke-linecap="round"/>
<line x1="1429.50" y1="3608.50" x2="1447.00" y2="3608.50" stroke="#0d0d0d" stroke-width="5.6" stroke-linecap="round"/>
<line x1="1429.50" y1="3759.00" x2="1447.00" y2="3759.00" stroke="#0d0d0d" stroke-width="5.6" stroke-linecap="round"/>
<line x1="1429.50" y1="3911.00" x2="1447.00" y2="3911.00" stroke="#0d0d0d" stroke-width="5.6" stroke-linecap="round"/>
<line x1="1429.50" y1="4062.50" x2="1447.00" y2="4062.50" stroke="#0d0d0d" stroke-width="5.6" stroke-linecap="round"/>
<line x1="1429.50" y1="4215.00" x2="1447.00" y2="4215.00" stroke="#0d0d0d" stroke-width="5.6" stroke-linecap="round"/>
<text transform="translate(1357.70,3476.14) scale(0.9930,1)" font-size="58" font-family="Liberation Sans, sans-serif" fill="#1a1a1a">6</text>
<text transform="translate(1357.70,3627.24) scale(0.9930,1)" font-size="58" font-family="Liberation Sans, sans-serif" fill="#1a1a1a">5</text>
<text transform="translate(1357.70,3777.74) scale(0.9930,1)" font-size="58" font-family="Liberation Sans, sans-serif" fill="#1a1a1a">4</text>
<text transform="translate(1357.70,3929.74) scale(0.9930,1)" font-size="58" font-family="Liberation Sans, sans-serif" fill="#1a1a1a">3</text>
<text transform="translate(1357.70,4081.24) scale(0.9930,1)" font-size="58" font-family="Liberation Sans, sans-serif" fill="#1a1a1a">2</text>
<text transform="translate(1357.70,4233.74) scale(0.9930,1)" font-size="58" font-family="Liberation Sans, sans-serif" fill="#1a1a1a">1</text>
<text transform="translate(1357.70,4383.74) scale(0.9930,1)" font-size="58" font-family="Liberation Sans, sans-serif" fill="#1a1a1a">0</text>
<text transform="translate(1309.50,4140.81) rotate(-90) scale(0.9516,1)" font-size="74" font-family="Liberation Sans, sans-serif" fill="#1a1a1a">Bradykinesia</text>
<text transform="translate(1219.83,3440.02) scale(0.9945,0.9080)" font-size="75" font-family="Liberation Sans, sans-serif" fill="#111" stroke="#111" stroke-width="3.3" stroke-linejoin="round">h)</text>
<text transform="translate(2056.25,3753.02) scale(0.9735,0.9927)" font-size="60" font-family="DejaVu Sans, sans-serif" fill="#111" stroke="#111" stroke-width="1.6" stroke-linejoin="round">*</text>
<text transform="translate(2090.72,3750.62) scale(1.1558,0.9590)" font-size="60" font-family="Liberation Sans, sans-serif" fill="#111" stroke="#111" stroke-width="1.8" stroke-linejoin="round">†</text>
<text transform="translate(2135.27,3679.08) scale(1.0152,1.0073)" font-size="60" font-family="DejaVu Sans, sans-serif" fill="#111" stroke="#111" stroke-width="1.6" stroke-linejoin="round">*</text>
<text transform="translate(2170.90,3677.11) scale(1.1361,0.9842)" font-size="60" font-family="Liberation Sans, sans-serif" fill="#111" stroke="#111" stroke-width="1.8" stroke-linejoin="round">†</text>
</g>
</svg>
</body></html>
